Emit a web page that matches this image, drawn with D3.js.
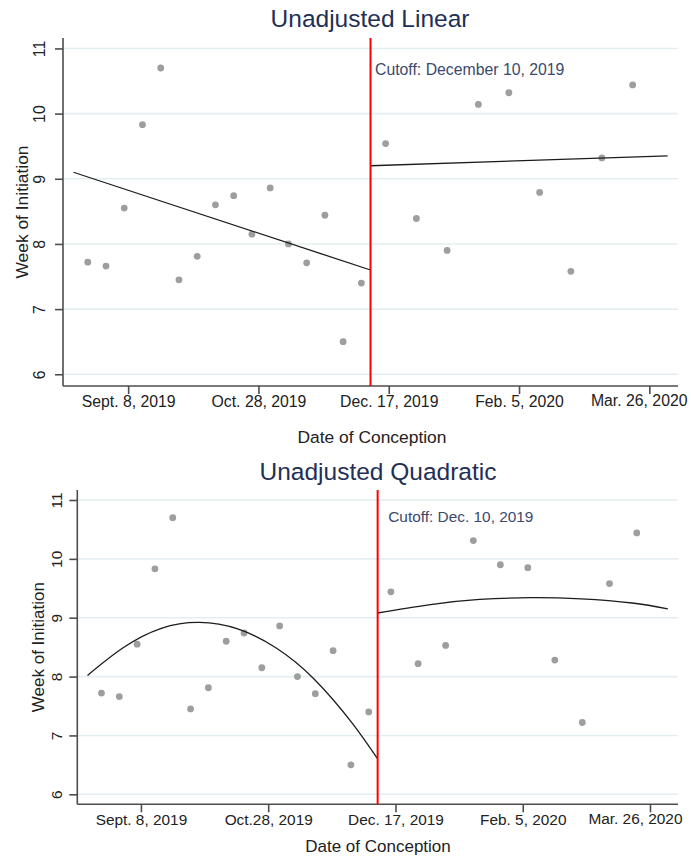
<!DOCTYPE html>
<html>
<head>
<meta charset="utf-8">
<script src="https://cdn.jsdelivr.net/npm/d3@7"></script>
<style>
  body { margin: 0; background: #fff; }
  svg { display: block; font-family: "Liberation Sans", Arial, sans-serif; }
</style>
</head>
<body>
<svg id="chart" width="691" height="858"></svg>
<script>
"use strict";

// cutoff date, all x values are days relative to it
const cutoffDate = Date.UTC(2019, 11, 10);

// weekly bins before the cutoff (same in both panels)
const preDays  = [-108.5, -101.5, -94.5, -87.5, -80.5, -73.5, -66.5, -59.5, -52.5, -45.5, -38.5, -31.5, -24.5, -17.5, -10.5, -3.5];
const preWeeks = [7.72, 7.66, 8.55, 9.83, 10.70, 7.45, 7.81, 8.60, 8.74, 8.15, 8.86, 8.00, 7.71, 8.44, 6.50, 7.40];

// bins after the cutoff, linear panel
const linPostDays  = [5.8, 17.6, 29.4, 41.4, 53.1, 64.9, 76.9, 88.8, 100.6];
const linPostWeeks = [9.54, 8.39, 7.90, 10.14, 10.32, 8.79, 7.58, 9.32, 10.44];

// bins after the cutoff, quadratic panel
const quadPostDays  = [5.2, 15.9, 26.7, 37.6, 48.2, 59.0, 69.6, 80.4, 91.1, 101.8];
const quadPostWeeks = [9.44, 8.22, 8.53, 10.31, 9.90, 9.85, 8.28, 7.22, 9.58, 10.44];

// fitted lines
const linFitPreDays   = [-114, 0];
const linFitPreVals   = [9.10, 7.60];
const linFitPostDays  = [0, 114];
const linFitPostVals  = [9.20, 9.35];
const quadFitPreDays  = [-114, -100, -85, -70, -55, -40, -25, -10, 0];
const quadFitPreVals  = [8.02, 8.49, 8.82, 8.92, 8.81, 8.49, 7.96, 7.21, 6.60];
const quadFitPostDays = [0, 20, 40, 60, 80, 100, 114];
const quadFitPostVals = [9.08, 9.22, 9.31, 9.34, 9.32, 9.25, 9.15];

// axis ticks
const yTicks = [6, 7, 8, 9, 10, 11];
const xTickDates = [Date.UTC(2019, 8, 8), Date.UTC(2019, 9, 28), Date.UTC(2019, 11, 17), Date.UTC(2020, 1, 5), Date.UTC(2020, 2, 26)];
const linTickLabels  = ["Sept. 8, 2019", "Oct. 28, 2019", "Dec. 17, 2019", "Feb. 5, 2020", "Mar. 26, 2020"];
const quadTickLabels = ["Sept. 8, 2019", "Oct.28, 2019", "Dec. 17, 2019", "Feb. 5, 2020", "Mar. 26, 2020"];

const DAY = 86400000;
const toDate = d => new Date(cutoffDate + d * DAY);

const svg = d3.select("#chart");

const panels = [
  { title: "Unadjusted Linear", cutoffText: "Cutoff: December 10, 2019",
    left: 63, right: 678, top: 38, bottom: 386, yMin: 5.82, yMax: 11.16,
    titleX: 370, titleY: 27, yLabelX: 28, xLabelX: 372, xLabelY: 443,
    tickFont: 15.8, labelFont: 17.4, cutFont: 15.8, cutDx: 4.5, cutY: 75, yPad: 10, lastEnd: 687, lastDy: -1.5,
    postDays: linPostDays, postWeeks: linPostWeeks, tickLabels: linTickLabels,
    fits: [[linFitPreDays, linFitPreVals], [linFitPostDays, linFitPostVals]], curved: false },
  { title: "Unadjusted Quadratic", cutoffText: "Cutoff: Dec. 10, 2019",
    left: 77.3, right: 678, top: 490, bottom: 804.3, yMin: 5.83, yMax: 11.17,
    titleX: 378, titleY: 480, yLabelX: 43.5, xLabelX: 378, xLabelY: 852,
    tickFont: 15.4, labelFont: 17, cutFont: 15.4, cutDx: 10.6, cutY: 521.5, yPad: 7.5, lastEnd: 682, lastDy: -1,
    postDays: quadPostDays, postWeeks: quadPostWeeks, tickLabels: quadTickLabels,
    fits: [[quadFitPreDays, quadFitPreVals], [quadFitPostDays, quadFitPostVals]], curved: true }
];

panels.forEach(p => {
  const x = d3.scaleUtc().domain([toDate(-118), toDate(118)]).range([p.left, p.right]);
  const y = d3.scaleLinear().domain([p.yMin, p.yMax]).range([p.bottom, p.top]);
  const g = svg.append("g");

  // gridlines
  g.selectAll(".grid")
    .data(yTicks)
    .enter().append("line")
      .attr("x1", p.left).attr("x2", p.right)
      .attr("y1", d => y(d)).attr("y2", d => y(d))
      .attr("stroke", "#e4eef1").attr("stroke-width", 1.6);

  // y axis
  const yAxis = g.append("g")
    .attr("transform", `translate(${p.left},0)`)
    .call(d3.axisLeft(y).tickValues(yTicks).tickSize(8).tickFormat(d3.format("d")));
  yAxis.select(".domain").attr("d", `M0,${p.top}V${p.bottom}`);
  yAxis.selectAll("text")
    .attr("x", 0).attr("y", -(8 + p.yPad)).attr("dy", 0)
    .attr("transform", "rotate(-90)")
    .attr("text-anchor", "middle");

  // x axis
  const xAxis = g.append("g")
    .attr("transform", `translate(0,${p.bottom})`)
    .call(d3.axisBottom(x).tickValues(xTickDates.map(d => new Date(d))).tickSize(8)
      .tickFormat((d, i) => p.tickLabels[i]));
  xAxis.select(".domain").attr("d", `M${p.left},0H${p.right}`);
  xAxis.selectAll("text").attr("y", 21).attr("dy", 0);

  // last label is pushed inward so it stays on the page
  const lastX = x(new Date(xTickDates[xTickDates.length - 1]));
  xAxis.selectAll(".tick").filter((d, i) => i === xTickDates.length - 1).select("text")
    .attr("text-anchor", "end")
    .attr("x", p.lastEnd - lastX)
    .attr("y", 21 + p.lastDy);

  [yAxis, xAxis].forEach(a => {
    a.selectAll(".domain, line").attr("stroke", "#4d4d4d").attr("stroke-width", 1.6);
    a.selectAll("text").attr("fill", "#222").style("font-size", p.tickFont + "px");
    a.attr("font-family", null);
  });

  // points
  const pts = preDays.map((d, i) => [d, preWeeks[i]])
    .concat(p.postDays.map((d, i) => [d, p.postWeeks[i]]));
  g.selectAll(".dot")
    .data(pts)
    .enter().append("circle")
      .attr("cx", d => x(toDate(d[0])))
      .attr("cy", d => y(d[1]))
      .attr("r", 3.4)
      .attr("fill", "#9e9e9e");

  // fitted lines
  const line = d3.line()
    .x(d => x(toDate(d[0])))
    .y(d => y(d[1]))
    .curve(p.curved ? d3.curveNatural : d3.curveLinear);
  p.fits.forEach(f => {
    g.append("path")
      .datum(f[0].map((d, i) => [d, f[1][i]]))
      .attr("d", line)
      .attr("fill", "none")
      .attr("stroke", "#1c1c1c")
      .attr("stroke-width", 1.3);
  });

  // cutoff line
  const cx = x(new Date(cutoffDate));
  g.append("line")
    .attr("x1", cx).attr("x2", cx)
    .attr("y1", p.top).attr("y2", p.bottom)
    .attr("stroke", "#ff0000").attr("stroke-width", 2);

  g.append("text")
    .attr("x", cx + p.cutDx).attr("y", p.cutY)
    .attr("fill", "#3b4a6b")
    .style("font-size", p.cutFont + "px")
    .text(p.cutoffText);

  // titles
  g.append("text")
    .attr("x", p.titleX).attr("y", p.titleY)
    .attr("text-anchor", "middle")
    .attr("fill", "#1f2f55")
    .style("font-size", "24.5px")
    .text(p.title);

  g.append("text")
    .attr("transform", `translate(${p.yLabelX},${(p.top + p.bottom) / 2}) rotate(-90)`)
    .attr("text-anchor", "middle")
    .attr("fill", "#222")
    .style("font-size", p.labelFont + "px")
    .text("Week of Initiation");

  g.append("text")
    .attr("x", p.xLabelX).attr("y", p.xLabelY)
    .attr("text-anchor", "middle")
    .attr("fill", "#222")
    .style("font-size", p.labelFont + "px")
    .text("Date of Conception");
});
</script>
</body>
</html>
